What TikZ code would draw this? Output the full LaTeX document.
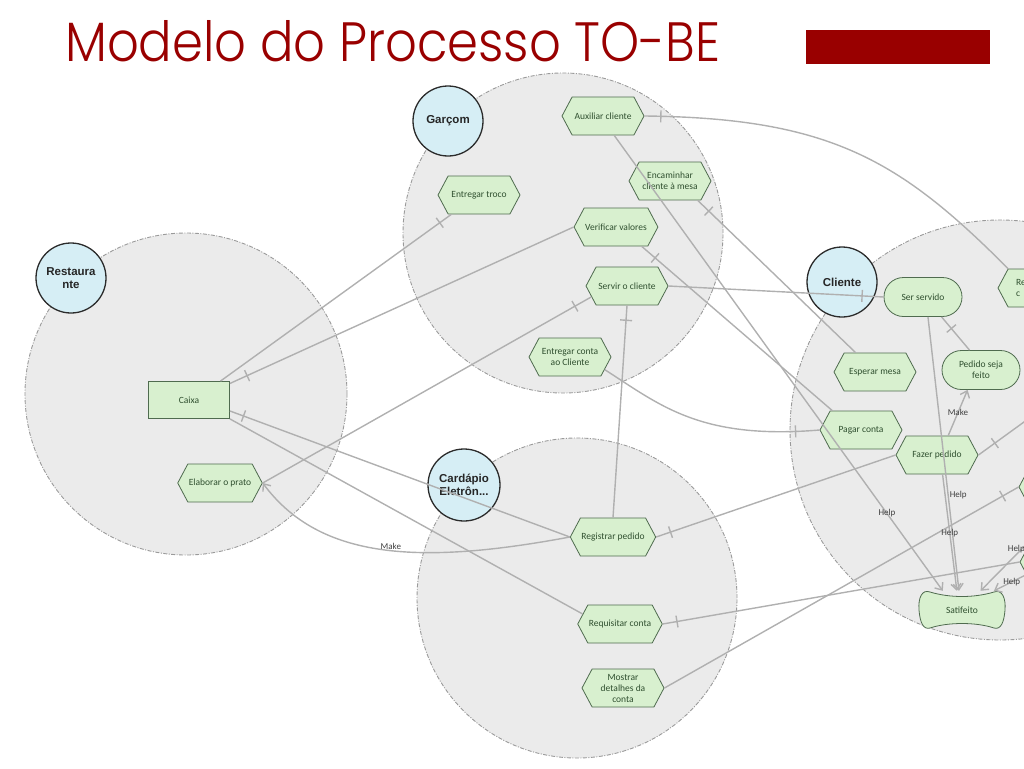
\documentclass[tikz,border=0pt]{standalone}
\usepackage{fontspec}
\setmainfont{Carlito}
\newfontfamily\actorfont{Liberation Sans}
\newfontfamily\titlefont{Poppins}[UprightFont={* Light}]
\usetikzlibrary{shapes.symbols,shapes.misc,arrows.meta}
\definecolor{titlered}{HTML}{990000}
\definecolor{taskfill}{HTML}{D8F0CF}
\definecolor{taskborder}{HTML}{4F6B4F}
\definecolor{tasktext}{HTML}{2F4F2F}
\definecolor{actorfill}{HTML}{D6EEF5}
\definecolor{actorborder}{HTML}{2B2B2B}
\definecolor{boundfill}{HTML}{EBEBEB}
\definecolor{boundline}{HTML}{9A9A9A}
\definecolor{linegray}{HTML}{B0B0B0}
\begin{document}
\begin{tikzpicture}[x=1pt,y=-1pt,>={Straight Barb[length=6pt,width=10pt]},
  boundary/.style={circle,fill=boundfill,draw=boundline,line width=0.9pt,dash pattern=on 4pt off 1.5pt on 1pt off 1.5pt,inner sep=0pt},
  actor/.style={circle,draw=actorborder,fill=actorfill,line width=1.3pt,minimum size=70pt,inner sep=0pt,align=center,text=black!85,font=\actorfont\bfseries\fontsize{11.5}{12.5}\selectfont},
  task/.style={signal,signal to=east and west,signal pointer angle=124,draw=taskborder,fill=taskfill,line width=0.8pt,minimum width=82pt,minimum height=38pt,inner sep=1pt,align=center,text=tasktext,font=\fontsize{9.5}{11}\selectfont},
  goal/.style={rounded rectangle,draw=taskborder,fill=taskfill,line width=0.8pt,minimum width=80pt,minimum height=39pt,inner sep=1pt,align=center,text=tasktext,font=\fontsize{9.5}{11}\selectfont},
  res/.style={rectangle,draw=taskborder,fill=taskfill,line width=0.8pt,minimum width=81pt,minimum height=37pt,text=tasktext,font=\fontsize{9.5}{11}\selectfont},
  softgoal/.style={inner sep=0pt,minimum width=80pt,minimum height=38pt,text=tasktext,font=\fontsize{9.5}{11}\selectfont},
  link/.style={draw=linegray,line width=1.4pt},
  tick/.style={sloped,draw=linegray,line width=1.4pt,inner sep=0pt,minimum width=0pt,minimum height=12pt},
  lbl/.style={inner sep=1pt,text=black!75,font=\fontsize{9}{10}\selectfont}]
\useasboundingbox (0,0) rectangle (1024,768);
\clip (0,0) rectangle (1024,768);

\node (title) at (65,62)[anchor=base west,inner sep=0pt,text=titlered,font=\titlefont]{\resizebox{655pt}{41pt}{Modelo do Processo TO-BE}};
\node (bar) at (898,47)[fill=titlered,minimum width=184pt,minimum height=34pt,inner sep=0pt]{};

% boundaries
\node (restB) at (186,394)[boundary,minimum size=322pt]{};
\node (garcomB) at (563,233)[boundary,minimum size=320pt]{};
\node (cardB) at (577,598)[boundary,minimum size=320pt]{};
\node (clienteB) at (1000,430)[boundary,minimum size=420pt]{};

% actors
\node (restaurante) at (71,278)[actor]{Restaura\\nte};
\node (garcom) at (448,121)[actor]{Garçom};
\node (cardapio) at (464,485)[actor,minimum size=72pt]{Cardápio\\Eletrôn...};
\node (cliente) at (842,282)[actor]{Cliente};

% tasks
\foreach \n/\x/\y/\t in {aux/603/116/{Auxiliar cliente},encam/670/181/{Encaminhar\\cliente à mesa},
  troco/479/195/{Entregar troco},verif/616/227/{Verificar valores},servir/627/286/{Servir o cliente},
  entconta/570/357/{Entregar conta\\ao Cliente},elab/220/483/{Elaborar o prato},regped/613/537/{Registrar pedido},
  reqconta/620/624/{Requisitar conta},mostrar/623/688/{Mostrar\\detalhes da\\conta},
  esperar/875/372/{Esperar mesa},pagar/861/430/{Pagar conta},fazer/937/455/{Fazer pedido},
  hexR1/1060/487/{},hexR2/1061/562/{}}
{
    \node (\n) at (\x,\y)[task]{\t};
}
\node (reR) at (1039,288)[task,text width=46pt,align=left]{Re\\c};
\node (caixa) at (189,400)[res]{Caixa};
\node (serserv) at (923,297)[goal]{Ser servido};
\node (pedido) at (981,370)[goal]{Pedido seja\\feito};
\draw[taskborder,fill=taskfill,line width=0.8pt] (930,592) .. controls (950,598) and (974,598) .. (994,592)
  .. controls (1002,589) and (1006,598) .. (1005,610) .. controls (1004,622) and (1001,630) .. (994,628)
  .. controls (976,622) and (948,622) .. (930,628) .. controls (923,630) and (920,622) .. (919,610)
  .. controls (918,598) and (922,589) .. cycle;
\node (satif) at (962,610)[softgoal]{Satifeito};
\coordinate (offA) at (1075,385);
\coordinate (offB) at (1070,500);

% links
\draw[link] (aux.east) .. controls (830,118) and (900,160) .. (reR.148) node[pos=.03,tick]{};
\draw[link,->] (aux.-60) -- (satif.135) node[pos=.83,lbl]{Help};
\draw[link] (encam.-35) -- (esperar.135) node[pos=.07,tick]{};
\draw[link] (verif.-37) -- (pagar.146) node[pos=.07,tick]{};
\draw[link] (servir.east) -- (serserv.west) node[pos=.9,tick]{};
\draw[link] (servir.197) -- (elab.east) node[pos=.05,tick]{};
\draw[link] (servir.south) -- (regped.north) node[pos=.07,tick]{};
\draw[link] (entconta.-20) .. controls (660,405) and (700,440) .. (pagar.west) node[pos=.93,tick]{};
\draw[link] (troco.215) -- (caixa.31) node[pos=.05,tick]{};
\draw[link] (verif.west) -- (caixa.22) node[pos=.95,tick]{};
\draw[link] (caixa.-15) -- (regped.west) node[pos=.04,tick]{};
\draw[link] (caixa.south east) -- (reqconta.165);
\draw[link,->] (regped.west) .. controls (420,565) and (320,560) .. (elab.east) node[pos=.47,above=-1pt,lbl]{Make};
\draw[link] (regped.east) -- (fazer.west) node[pos=.06,tick]{};
\draw[link] (reqconta.east) -- (hexR2.west) node[pos=.04,tick]{};
\draw[link] (mostrar.east) -- (hexR1.west) node[pos=.955,tick]{};
\draw[link] (fazer.east) -- (offA) node[pos=.17,tick]{};
\draw[link] (serserv.-47) -- (pedido.120) node[pos=.35,tick]{};
\draw[link,->] (fazer.60) -- (pedido.-124) node[pos=.5,lbl]{Make};
\draw[link,->] (serserv.-76) -- (satif.99) node[pos=.65,right,lbl]{Help};
\draw[link,->] (fazer.-74) -- (satif.105) node[pos=.5,lbl]{Help};
\draw[link,->] (offB) -- (satif.46) node[pos=.6,above,lbl]{Help};
\draw[link,->] (hexR2.200) -- (satif.31) node[pos=.45,lbl]{Help};
\end{tikzpicture}
\end{document}
